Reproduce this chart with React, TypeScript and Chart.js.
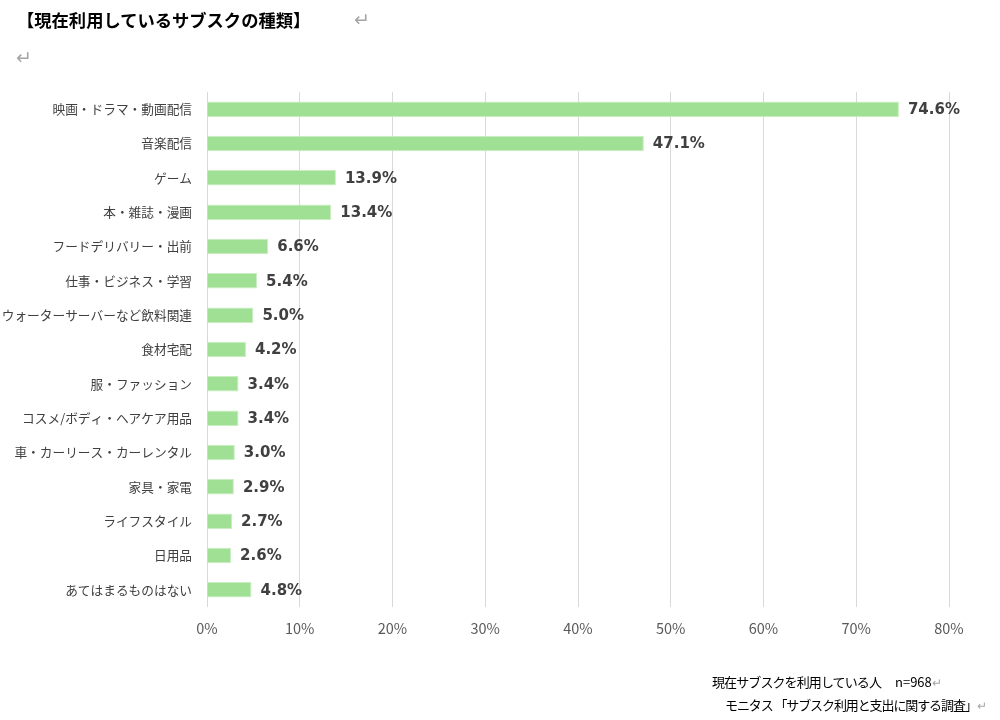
import React, { useEffect, useRef } from "react";
import { Chart, registerables } from "chart.js";

Chart.register(...registerables);

const categories = [
  "映画・ドラマ・動画配信",
  "音楽配信",
  "ゲーム",
  "本・雑誌・漫画",
  "フードデリバリー・出前",
  "仕事・ビジネス・学習",
  "ウォーターサーバーなど飲料関連",
  "食材宅配",
  "服・ファッション",
  "コスメ/ボディ・ヘアケア用品",
  "車・カーリース・カーレンタル",
  "家具・家電",
  "ライフスタイル",
  "日用品",
  "あてはまるものはない",
];
const values = [74.6, 47.1, 13.9, 13.4, 6.6, 5.4, 5.0, 4.2, 3.4, 3.4, 3.0, 2.9, 2.7, 2.6, 4.8];
const xTicks = [0, 10, 20, 30, 40, 50, 60, 70, 80];

const title = "【現在利用しているサブスクの種類】";
const footer1a = "現在サブスクを利用している人";
const footer1b = "n=968";
const footer2 = "モニタス 「サブスク利用と支出に関する調査」";

const JP = '"Noto Sans CJK JP", "Noto Sans", sans-serif';

const valueLabels = {
  id: "valueLabels",
  afterDatasetsDraw(chart: any) {
    const ctx = chart.ctx;
    const meta = chart.getDatasetMeta(0);
    ctx.save();
    ctx.font = 'bold 15px "DejaVu Sans", sans-serif';
    ctx.fillStyle = "#404040";
    ctx.textAlign = "left";
    ctx.textBaseline = "middle";
    meta.data.forEach((el: any, i: number) => {
      ctx.fillText(values[i].toFixed(1) + "%", el.x + 9, el.y + 1);
    });
    ctx.restore();
  },
};

export default function App() {
  const ref = useRef<HTMLCanvasElement>(null);
  useEffect(() => {
    if (!ref.current) return;
    const chart = new Chart(ref.current, {
      type: "bar",
      data: {
        labels: categories,
        datasets: [
          {
            data: values,
            backgroundColor: "#a0e094",
            borderColor: "#c8eec0",
            borderWidth: 1,
            barPercentage: 0.45,
            categoryPercentage: 1,
          },
        ],
      },
      options: {
        indexAxis: "y",
        responsive: false,
        animation: false,
        layout: { padding: { top: 92, right: 51, left: 0, bottom: 0 } },
        plugins: { legend: { display: false }, tooltip: { enabled: false } },
        scales: {
          x: {
            min: 0,
            max: 80,
            afterBuildTicks: (scale: any) => {
              scale.ticks = xTicks.map((v) => ({ value: v }));
            },
            afterFit: (scale: any) => {
              scale.height = 720 - 607;
            },
            grid: { color: "#d9d9d9", lineWidth: 1, drawTicks: false },
            border: { display: false },
            ticks: {
              padding: 13,
              color: "#595959",
              font: { family: JP, size: 14.5 },
              callback: (v: any) => v + "%",
            },
          },
          y: {
            afterFit: (scale: any) => {
              scale.width = 207;
            },
            grid: { display: false, drawTicks: false },
            border: { display: false },
            ticks: {
              padding: 15,
              color: "#404040",
              font: { family: JP, size: 12.7 },
              autoSkip: false,
            },
          },
        },
      },
      plugins: [valueLabels],
    });
    return () => chart.destroy();
  }, []);

  const ret: React.CSSProperties = { position: "absolute", fontFamily: '"DejaVu Sans", sans-serif', fontSize: 19, lineHeight: "20px", color: "#a6a6a6" };

  return (
    <div style={{ position: "fixed", left: 0, top: 0, width: 1000, height: 720, background: "#fff", overflow: "hidden" }}>
      <canvas ref={ref} width={1000} height={720} style={{ position: "absolute", left: 0, top: 0 }} />
      <div style={{ position: "absolute", left: 17, top: 9, fontFamily: JP, fontWeight: "bold", fontSize: 17.3, lineHeight: "22px", color: "#000", whiteSpace: "nowrap" }}>
        {title}
      </div>
      <div style={{ ...ret, left: 354, top: 9 }}>↵</div>
      <div style={{ ...ret, left: 16, top: 47 }}>↵</div>
      <div style={{ position: "absolute", left: 712, top: 673, fontFamily: JP, fontSize: 13, letterSpacing: -0.9, lineHeight: "18px", color: "#000", whiteSpace: "nowrap" }}>
        {footer1a}
      </div>
      <div style={{ position: "absolute", left: 895, top: 673, fontFamily: JP, fontSize: 13, lineHeight: "18px", color: "#000", whiteSpace: "nowrap" }}>
        {footer1b}
        <span style={{ color: "#a6a6a6", fontSize: 12 }}>↵</span>
      </div>
      <div style={{ position: "absolute", left: 725, top: 696, fontFamily: JP, fontSize: 13, letterSpacing: -1.1, lineHeight: "18px", color: "#000", whiteSpace: "nowrap" }}>
        {footer2}
        <span style={{ color: "#a6a6a6", fontSize: 12, letterSpacing: 0 }}>↵</span>
      </div>
    </div>
  );
}
